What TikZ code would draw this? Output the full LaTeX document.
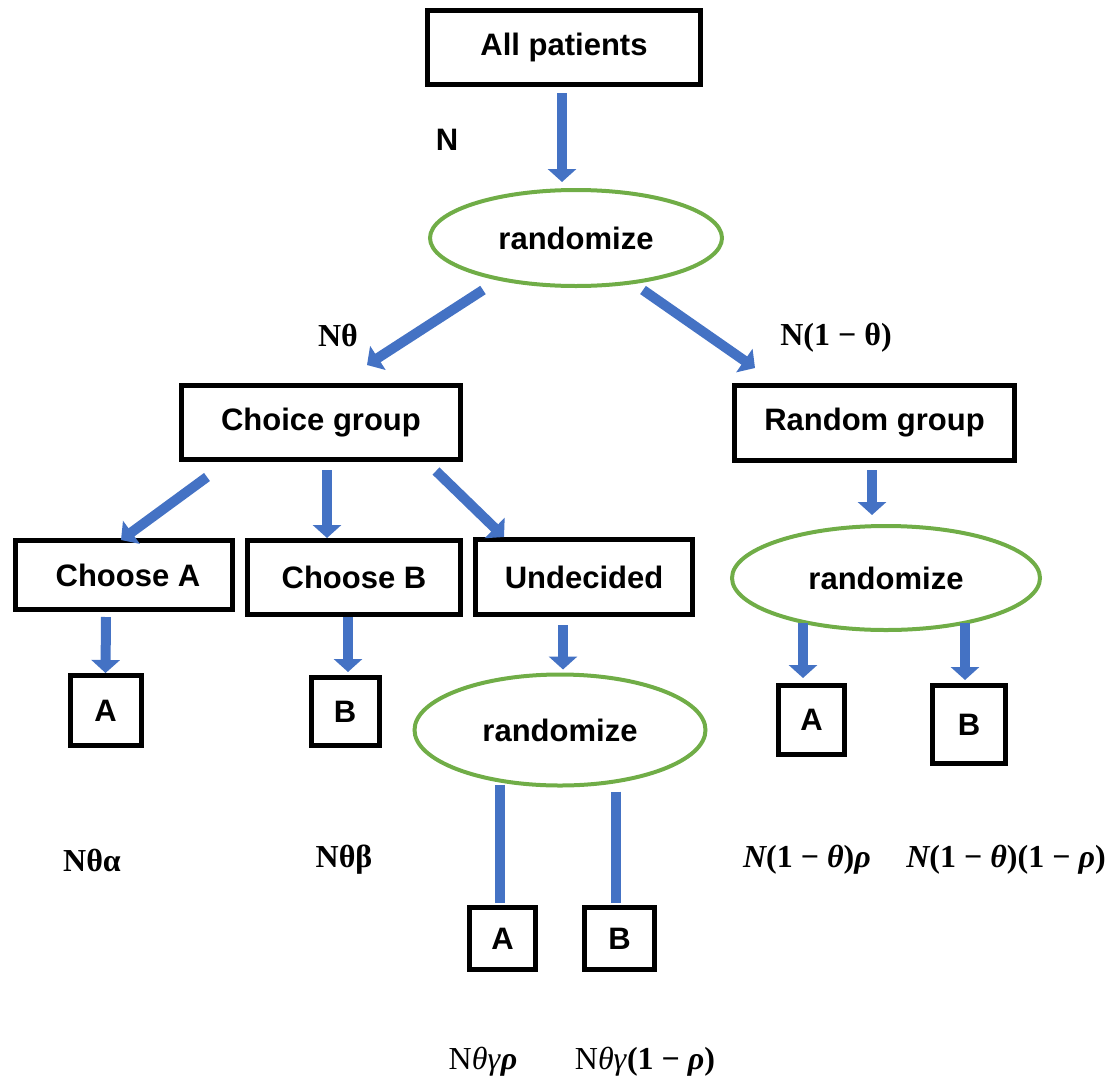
\documentclass[tikz,border=0pt]{standalone}
\usepackage{fontspec}
\setmainfont{Liberation Sans}
\newfontfamily\serf{Liberation Serif}
\usetikzlibrary{arrows.meta,shapes.geometric,calc}
\definecolor{arrblue}{HTML}{4472C4}
\definecolor{elgreen}{HTML}{70AD47}
\newcommand{\bi}[1]{{\bfseries\itshape #1}}
\newcommand{\bu}[1]{{\bfseries #1}}
\newcommand{\mi}{\hspace{0.25em}−\hspace{0.25em}}
\begin{document}
\begin{tikzpicture}[x=1pt,y=-1pt,
  box/.style={draw=black, line width=5pt, rectangle, inner sep=0pt, font=\fontsize{31}{37}\selectfont\bfseries},
  oval/.style={draw=elgreen, line width=4pt, ellipse, inner sep=0pt, font=\fontsize{31}{37}\selectfont\bfseries},
  arr/.style={draw=arrblue, line width=10pt, -{Triangle[width=28pt,length=13pt]}},
  bar/.style={draw=arrblue, line width=10pt},
  sanslab/.style={inner sep=0pt, font=\fontsize{31}{37}\selectfont\bfseries},
  lab/.style={inner sep=0pt, font=\serf\fontsize{32}{38}\selectfont}
]
\useasboundingbox (0,0) rectangle (1118,1076);

% boxes and ovals
\node[box, minimum width=273pt, minimum height=74pt] (all) at (564,47.5) {All patients};
\node[oval, minimum width=292pt, minimum height=96pt] (r1) at (576,238) {randomize};
\node[box, minimum width=279pt, minimum height=74pt] (choice) at (321,422.5) {Choice group};
\node[box, minimum width=280pt, minimum height=75pt] (random) at (874.5,423) {Random group\hspace{10pt}};
\node[box, minimum width=217pt, minimum height=69pt] (chA) at (124,575) {\hspace{8pt}Choose A};
\node[box, minimum width=213pt, minimum height=74pt] (chB) at (354,577.5) {Choose B};
\node[box, minimum width=217pt, minimum height=75pt] (und) at (584,577) {Undecided\hspace{14pt}};
\node[oval, minimum width=308pt, minimum height=104pt] (r2) at (886,578) {randomize};
\node[oval, minimum width=291pt, minimum height=111pt] (r3) at (560,730) {randomize};
\node[box, minimum width=71pt, minimum height=70pt] (A1) at (105.5,710.5) {A};
\node[box, minimum width=68pt, minimum height=68pt] (B1) at (345,711.5) {B};
\node[box, minimum width=66pt, minimum height=69pt] (rA) at (811.5,720) {A};
\node[box, minimum width=73pt, minimum height=78pt] (rB) at (969,724.5) {B};
\node[box, minimum width=66pt, minimum height=62pt] (A2) at (502.5,938.5) {A};
\node[box, minimum width=70pt, minimum height=62pt] (B2) at (619.5,938.5) {B};

% connectors
\draw[arr] ($(all.south)+(-2,6)$) -- ($(all.south |- r1.north)+(-2,-6)$);
\draw[arr] ($(r1.south)+(-93,2)$) -- ($(choice.north)+(46,-18)$);
\draw[arr] ($(r1.south)+(67,2)$) -- ($(random.north)+(-119.5,-15)$);
\draw[arr] ($(choice.south)+(-114,15)$) -- ($(chA.north)+(-3,2)$);
\draw[arr] ($(choice.south)+(6,8)$) -- ($(chB.north)+(-27,0)$);
\draw[arr] ($(choice.south)+(115,9)$) -- ($(und.north)+(-80,0)$);
\draw[arr] ($(random.south)+(-2.5,7)$) -- ($(r2.north)+(-14,-9)$);
\draw[arr] ($(chA.south)+(-18,5)$) -- (A1.north);
\draw[arr] ($(chB.south)+(-6,0)$) -- ($(B1.north)+(3,-3)$);
\draw[arr] ($(und.south)+(-21,8)$) -- ($(r3.north)+(3,-3)$);
\draw[arr] ($(r2.south)+(-83,-9)$) -- ($(rA.north)+(-8.5,-5)$);
\draw[arr] ($(r2.south)+(79,-9)$) -- ($(rB.north)+(-4,-3)$);
\draw[bar] ($(r3.south)+(-60,-3)$) -- ($(A2.north)+(-2.5,-2)$);
\draw[bar] ($(r3.south)+(56,4)$) -- ($(B2.north)+(-3.5,-2)$);

% labels
\node[sanslab] (lN) at (447,140) {N};
\node[lab] (lNt) at (338,335) {\bu{Nθ}};
\node[lab] (lN1t) at (836,338) {\bu{N(1\mi θ)}};
\node[lab] (lNta) at (92,860) {\bu{Nθα}};
\node[lab] (lNtb) at (344,860) {\bu{Nθβ}};
\node[lab] (lr1) at (807,860) {\bi{N}\bu{(1\mi}\bi{θ}\bu{)}\bi{ρ}};
\node[lab] (lr2) at (1006,860) {\bi{N}\bu{(1\mi}\bi{θ}\bu{)(1\mi}\bi{ρ}\bu{)}};
\node[lab] (lu1) at (483,1062) {N\textit{θγ}\bi{ρ}};
\node[lab] (lu2) at (645,1062) {N\textit{θγ}\bu{(1\mi}\bi{ρ}\bu{)}};
\end{tikzpicture}
\end{document}
